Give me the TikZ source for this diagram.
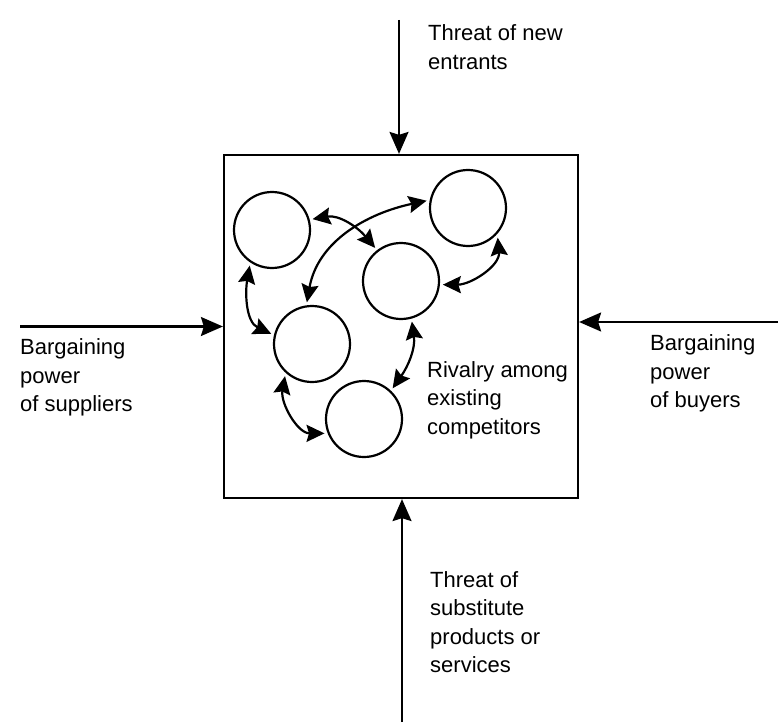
\documentclass[tikz,border=0pt]{standalone}
\usepackage{fontspec}
\setmainfont{Liberation Sans}
\usetikzlibrary{arrows.meta}
\begin{document}
\begin{tikzpicture}[x=1pt,y=-1pt,
  line/.style={line width=2.2pt, draw=black},
  bigarrow/.style={line, -{Stealth[length=22pt,width=19pt,inset=3pt]}},
  smallarrow/.style={line, {Stealth[length=18pt,width=17pt,inset=2.5pt]}-{Stealth[length=18pt,width=17pt,inset=2.5pt]}},
  firm/.style={circle, draw=black, line width=2.2pt, minimum size=76pt, inner sep=0pt, outer sep=4pt},
  label/.style={anchor=north west, inner sep=0pt, align=left, font=\fontsize{22}{28.5}\selectfont},
  box/.style={draw=black, line width=2.2pt, minimum width=354pt, minimum height=343pt, inner sep=0pt}
]
\useasboundingbox (0,0) rectangle (778,722);

\node[box] (market) at (401,326.5) {};

% circles (firms)
\node[firm] (c1) at (272,230) {};
\node[firm] (c2) at (468,208) {};
\node[firm] (c3) at (401,281) {};
\node[firm] (c4) at (312,344) {};
\node[firm] (c5) at (364,419) {};

% rivalry arrows
\draw[smallarrow] (c1.15) to[out=10, in=130] (c3.128);
\draw[smallarrow] (c2.170) to[out=192, in=80] (c4.97);
\draw[smallarrow] (c2.-45) to[out=-85, in=0] (c3.-5);
\draw[smallarrow] (c1.-122) to[out=-100, in=155] (c4.166);
\draw[smallarrow] (c3.-75) to[out=-82, in=55] (c5.47);
\draw[smallarrow] (c4.-130) to[out=-100, in=180] (c5.200);

% outer forces
\coordinate (topstart) at (399,20);
\coordinate (botstart) at (402,722);
\coordinate (leftstart) at (20,326.5);
\coordinate (rightstart) at (778,322);
\draw[bigarrow] (topstart) -- (topstart |- market.north);
\draw[bigarrow] (botstart) -- (botstart |- market.south);
\draw[bigarrow] (leftstart) -- (leftstart -| market.west);
\draw[bigarrow] (rightstart) -- (rightstart -| market.east);

% labels
\node[label] (tnew) at (428,24.5) {Threat of new\\entrants};
\node[label] (tsup) at (20,338.5) {Bargaining\\power\\of suppliers};
\node[label] (tbuy) at (650,334.5) {Bargaining\\power\\of buyers};
\node[label] (tsub) at (430,571) {Threat of\\substitute\\products or\\services};
\node[label] (triv) at (427,361) {Rivalry among\\existing\\competitors};
\end{tikzpicture}
\end{document}
